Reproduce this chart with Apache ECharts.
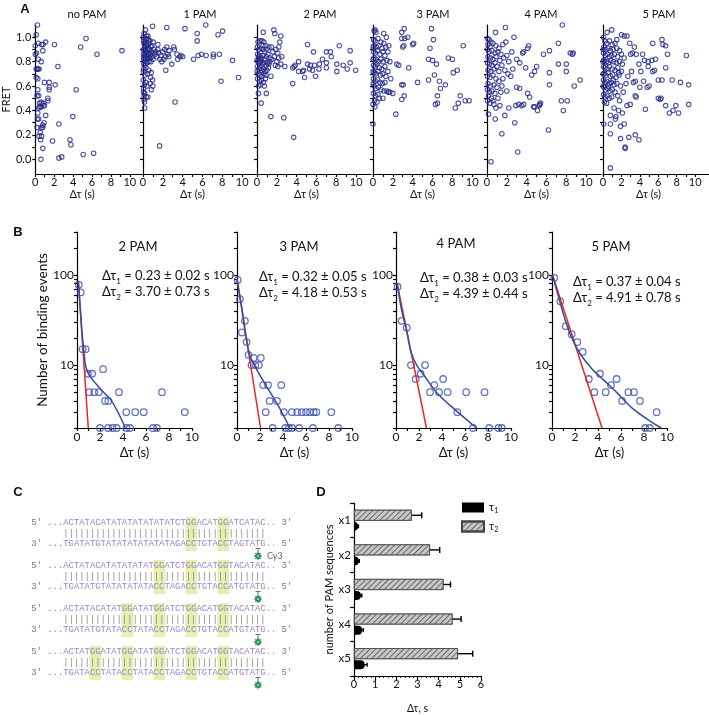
<!DOCTYPE html>
<html>
<head>
<meta charset="utf-8">
<script src="https://cdn.jsdelivr.net/npm/echarts@6/dist/echarts.min.js"></script>
<style>
html, body { margin: 0; padding: 0; background: #fff; }
#chart { width: 709px; height: 715px; }
</style>
</head>
<body>
<div id="chart"></div>
<script>
var FONT = 'Lato, "DejaVu Sans", sans-serif';
var MONO = '"Liberation Mono", "DejaVu Sans Mono", monospace';

// ---------- A: FRET vs dwell time ----------
var aTitles = ['no PAM', '1 PAM', '2 PAM', '3 PAM', '4 PAM', '5 PAM'];
var aXTicks = [0, 1, 2, 3, 4, 5, 6, 7, 8, 9, 10];
var aXLabels = [0, 2, 4, 6, 8, 10];
var aYTicks = [0, 0.1, 0.2, 0.3, 0.4, 0.5, 0.6, 0.7, 0.8, 0.9, 1.0];
var aYLabels = [0, 0.2, 0.4, 0.6, 0.8, 1.0];

var aNoPam = [[0.23,1.10],[0.1,1.02],[0.0,0.93],[0.33,0.95],[0.67,0.94],[0.83,0.94],[1.1,0.96],[0.8,0.89],[0.13,0.87],[0.0,0.86],
  [0.33,0.82],[0.63,0.80],[2.03,0.94],[4.8,0.92],[5.37,0.99],[6.53,0.86],[9.17,0.89],[2.4,0.76],[0.1,0.74],[0.2,0.74],
  [0.3,0.74],[0.4,0.74],[0.1,0.67],[0.27,0.66],[0.97,0.63],[1.47,0.63],[2.1,0.61],[1.47,0.59],[1.47,0.57],[0.27,0.57],
  [4.33,0.57],[0.2,0.52],[0.37,0.52],[1.33,0.50],[1.33,0.48],[0.47,0.46],[0.63,0.47],[0.83,0.46],[0.9,0.44],[0.47,0.43],
  [0.63,0.43],[0.97,0.44],[0.37,0.42],[0.27,0.38],[1.1,0.36],[3.97,0.35],[0.23,0.33],[0.37,0.33],[0.93,0.30],[2.5,0.29],
  [0.8,0.28],[0.63,0.26],[0.8,0.26],[0.2,0.26],[0.53,0.22],[0.4,0.19],[0.67,0.19],[0.57,0.16],[1.83,0.15],[3.67,0.16],
  [3.77,0.12],[0.8,0.09],[5.07,0.04],[6.17,0.05],[2.5,0.01],[2.8,0.02],[0.6,0.00]];

var a1Pam = [[0.05,0.97],[0.1,0.95],[0.2,0.96],[0.3,0.98],[0.4,0.99],[0.5,1.01],[0.15,0.93],[0.25,0.92],[0.35,0.94],[0.45,0.93],
  [0.6,0.95],[0.7,0.97],[0.05,0.9],[0.12,0.89],[0.22,0.9],[0.32,0.88],[0.42,0.9],[0.55,0.91],[0.65,0.9],[0.8,0.92],
  [0.9,0.93],[0.05,0.86],[0.15,0.85],[0.25,0.87],[0.35,0.85],[0.5,0.86],[0.6,0.87],[0.75,0.86],[0.85,0.88],[1.0,0.87],
  [1.1,0.9],[0.05,0.83],[0.12,0.82],[0.2,0.8],[0.3,0.83],[0.45,0.82],[0.55,0.84],[0.7,0.83],[0.9,0.84],[1.2,0.86],
  [1.3,0.88],[0.08,0.78],[0.18,0.77],[0.4,0.79],[0.6,0.8],[0.8,0.8],[1.0,0.82],[1.4,0.84],[1.6,0.87],[1.8,0.85],
  [2.0,0.88],[2.2,0.9],[1.7,0.82],[1.9,0.8],[2.1,0.82],[2.3,0.84],[2.5,0.86],[2.6,0.84],[1.5,0.9],[0.03,1.0],
  [0.1,1.03],[0.25,1.06],[0.35,1.01],[0.55,0.98],[0.97,1.09],[2.4,1.08],[4.23,1.07],[6.33,1.10],[5.47,1.03],[8.03,1.05],
  [7.57,1.02],[5.47,0.97],[1.03,0.96],[1.5,0.94],[3.1,0.92],[3.17,0.9],[2.4,0.92],[2.63,0.89],[3.43,0.86],[3.83,0.85],
  [3.5,0.82],[3.7,0.84],[4.0,0.84],[5.1,0.82],[5.57,0.85],[5.9,0.86],[6.37,0.85],[7.1,0.86],[7.1,0.84],[7.7,0.86],
  [9.03,0.81],[2.9,0.78],[2.3,0.73],[7.87,0.64],[9.63,0.67],[3.23,0.47],[1.67,0.11],[0.83,0.71],[0.77,0.67],[0.97,0.65],
  [0.73,0.62],[0.13,0.61],[0.07,0.58],[0.83,0.57],[0.17,0.54],[0.33,0.51],[0.5,0.51],[0.1,0.49],[0.17,0.42],[0.27,0.63],
  [0.03,0.65],[0.2,0.69],[0.05,0.72],[0.3,0.75],[0.1,0.52],[0.05,0.55],[0.4,0.6],[1.0,0.6],[0.15,0.47],[0.05,0.74],
  [0.6,0.73],[0.45,0.7]];

var a2Pam = [[0.63,1.04],[1.7,1.06],[1.8,1.03],[2.4,1.01],[2.3,0.96],[5.1,0.94],[8.3,0.93],[5.7,0.88],[7.0,0.88],[7.4,0.88],
  [9.4,0.89],[6.6,0.82],[7.5,0.84],[7.0,0.79],[4.2,0.80],[5.1,0.78],[5.4,0.77],[5.8,0.77],[6.3,0.78],[8.05,0.78],
  [8.7,0.77],[9.4,0.79],[2.8,0.76],[3.6,0.75],[3.75,0.76],[3.85,0.77],[4.2,0.72],[4.6,0.72],[4.7,0.73],[5.3,0.74],
  [5.6,0.73],[6.25,0.74],[7.0,0.75],[8.05,0.72],[9.1,0.74],[9.95,0.73],[4.8,0.67],[5.9,0.68],[1.4,0.68],[3.6,0.62],
  [0.14,0.54],[0.94,0.54],[0.42,0.46],[1.4,0.35],[2.7,0.34],[3.7,0.18],[0.1,0.96],[0.3,0.97],[0.5,0.97],[0.7,0.96],
  [0.9,0.93],[0.05,0.92],[0.2,0.9],[0.4,0.91],[0.6,0.9],[0.8,0.88],[1.0,0.9],[1.2,0.92],[1.45,0.92],[1.6,0.88],
  [1.9,0.9],[2.1,0.87],[2.2,0.92],[0.05,0.86],[0.15,0.84],[0.3,0.85],[0.45,0.83],[0.6,0.85],[0.75,0.82],[0.95,0.84],
  [1.1,0.86],[1.3,0.83],[1.5,0.82],[1.75,0.84],[2.0,0.8],[2.2,0.83],[0.1,0.8],[0.25,0.79],[0.4,0.8],[0.55,0.78],
  [0.7,0.79],[0.9,0.77],[1.05,0.79],[1.2,0.78],[2.1,0.76],[2.4,0.78],[0.05,0.76],[0.2,0.74],[0.35,0.75],[0.5,0.73],
  [0.65,0.74],[0.8,0.72],[1.0,0.73],[1.15,0.75],[0.1,0.7],[0.3,0.69],[0.5,0.68],[0.7,0.7],[0.9,0.69],[0.05,0.66],
  [0.25,0.64],[0.45,0.65],[0.65,0.63],[0.85,0.66],[0.15,0.6],[0.35,0.61],[0.75,0.6],[0.2,0.82],[0.6,0.93],[1.3,0.8],
  [1.85,0.77],[2.5,0.84],[0.02,0.81],[0.02,0.72]];

var a3Pam = [[0.1,1.05],[0.2,1.06],[0.3,1.04],[1.08,1.03],[1.35,1.0],[2.9,1.04],[3.15,1.07],[5.9,1.07],[3.5,1.0],[2.9,0.99],
  [3.2,0.99],[4.1,0.95],[4.0,0.94],[6.1,0.98],[9.1,0.93],[5.75,0.91],[3.0,0.92],[3.1,0.93],[5.6,0.82],[6.0,0.81],
  [6.4,0.78],[7.6,0.83],[8.0,0.82],[2.4,0.78],[2.6,0.77],[3.6,0.75],[8.1,0.71],[8.5,0.73],[6.2,0.69],[4.5,0.63],
  [5.6,0.65],[6.7,0.64],[7.3,0.61],[6.8,0.58],[2.9,0.61],[3.05,0.61],[2.0,0.54],[1.7,0.55],[1.55,0.55],[3.15,0.52],
  [2.9,0.49],[1.0,0.50],[6.5,0.52],[6.5,0.46],[6.3,0.45],[8.8,0.52],[9.3,0.48],[9.7,0.48],[8.6,0.46],[8.3,0.42],
  [2.3,0.37],[0.0,0.29],[0.05,0.98],[0.2,0.97],[0.5,0.99],[0.8,0.96],[1.1,0.95],[0.1,0.93],[0.35,0.92],[0.6,0.93],
  [0.9,0.91],[1.3,0.92],[1.6,0.93],[0.05,0.88],[0.25,0.87],[0.45,0.89],[0.7,0.86],[1.0,0.88],[1.2,0.85],[0.1,0.83],
  [0.3,0.82],[0.55,0.8],[0.8,0.82],[1.05,0.8],[1.4,0.81],[1.7,0.8],[0.05,0.77],[0.2,0.76],[0.4,0.78],[0.65,0.75],
  [0.9,0.74],[1.2,0.76],[0.1,0.71],[0.3,0.7],[0.5,0.72],[0.75,0.69],[1.0,0.7],[1.3,0.68],[0.05,0.66],[0.2,0.64],
  [0.45,0.65],[0.7,0.63],[0.95,0.62],[1.2,0.63],[0.1,0.6],[0.3,0.58],[0.55,0.59],[0.8,0.57],[1.1,0.56],[1.4,0.56],
  [0.05,0.54],[0.25,0.52],[0.5,0.53],[0.15,0.48],[0.4,0.47],[0.65,0.5],[0.0,0.45],[0.2,0.43],[0.02,0.62],[0.02,0.72],
  [0.02,0.82],[0.02,0.92],[1.5,0.72],[1.8,0.66],[1.5,0.88]];

var a4Pam = [[7.6,1.1],[1.86,1.08],[0.86,1.04],[2.72,1.0],[1.9,0.96],[1.6,0.94],[7.2,0.95],[4.2,0.93],[4.1,0.91],[3.7,0.88],
  [3.6,0.87],[8.4,0.87],[8.6,0.86],[8.7,0.87],[6.3,0.89],[5.7,0.86],[2.2,0.80],[3.3,0.79],[7.2,0.78],[8.0,0.78],
  [8.0,0.72],[6.3,0.71],[9.4,0.65],[8.8,0.60],[6.3,0.61],[3.0,0.59],[3.3,0.58],[4.1,0.54],[3.7,0.45],[3.5,0.44],
  [3.2,0.45],[2.9,0.44],[4.7,0.43],[4.8,0.43],[5.3,0.45],[5.4,0.46],[5.3,0.44],[5.1,0.40],[7.5,0.48],[8.1,0.48],
  [7.7,0.40],[2.8,0.30],[6.2,0.24],[1.5,0.21],[3.1,0.06],[0.4,-0.02],[0.15,0.37],[0.83,0.33],[1.8,0.36],[4.5,0.69],
  [4.8,0.72],[3.9,0.75],[2.6,0.74],[2.4,0.68],[5.0,0.76],[3.0,0.82],[2.5,0.88],[1.2,0.64],[1.5,0.6],[2.0,0.56],
  [1.1,0.5],[0.7,0.45],[1.3,0.44],[2.2,0.42],[0.9,0.42],[4.3,0.51],[0.05,0.99],[0.2,0.98],[0.4,0.96],[0.1,0.94],
  [0.3,0.92],[0.6,0.95],[0.9,0.93],[1.2,0.91],[0.05,0.9],[0.2,0.88],[0.5,0.89],[0.8,0.87],[1.1,0.88],[1.4,0.86],
  [0.1,0.84],[0.35,0.83],[0.6,0.82],[0.9,0.84],[1.3,0.81],[1.7,0.83],[0.05,0.79],[0.25,0.78],[0.5,0.77],[0.8,0.79],
  [1.0,0.76],[1.5,0.77],[0.1,0.73],[0.4,0.72],[0.7,0.74],[1.2,0.72],[1.8,0.73],[0.05,0.68],[0.3,0.67],[0.6,0.69],
  [0.9,0.66],[0.1,0.62],[0.35,0.6],[0.7,0.61],[1.0,0.59],[0.05,0.57],[0.25,0.55],[0.5,0.56],[0.8,0.54],[0.15,0.52],
  [0.45,0.5],[0.05,0.48],[0.3,0.46],[0.6,0.48],[1.4,0.55],[1.6,0.66],[2.1,0.7],[2.0,0.85]];

var a5Pam = [[0.95,1.06],[0.44,1.04],[2.0,1.02],[2.3,1.01],[2.6,1.01],[1.5,0.98],[5.4,0.95],[6.4,0.98],[6.5,0.94],[6.8,0.93],
  [7.0,0.86],[9.05,0.85],[3.0,0.86],[3.2,0.87],[3.6,0.86],[4.5,0.81],[4.9,0.8],[5.3,0.81],[4.9,0.76],[5.4,0.72],
  [5.6,0.73],[6.0,0.65],[6.4,0.65],[7.5,0.65],[8.4,0.63],[9.3,0.61],[6.8,0.75],[4.4,0.64],[4.8,0.59],[5.0,0.6],
  [4.0,0.59],[3.5,0.64],[3.3,0.63],[6.0,0.5],[6.2,0.49],[6.3,0.5],[6.8,0.44],[7.2,0.38],[7.6,0.4],[7.9,0.44],
  [8.2,0.38],[9.3,0.45],[4.6,0.41],[2.95,0.45],[3.5,0.52],[3.6,0.51],[2.1,0.38],[1.4,0.35],[1.35,0.33],[0.8,0.36],
  [0.07,0.29],[0.8,0.29],[0.8,0.21],[1.9,0.17],[2.4,0.10],[2.4,0.09],[2.8,0.18],[3.5,0.20],[3.9,0.16],[1.9,0.27],
  [2.3,0.29],[0.8,-0.07],[4.1,0.72],[3.9,0.78],[3.1,0.72],[2.7,0.68],[2.5,0.62],[2.2,0.55],[1.8,0.48],[1.2,0.42],
  [2.6,0.44],[1.7,0.4],[1.6,0.52],[4.3,0.86],[5.7,0.82],[2.9,0.95],[3.4,0.92],[0.05,1.0],[0.2,0.97],[0.4,0.95],
  [0.7,0.97],[1.0,0.94],[1.3,0.95],[0.1,0.92],[0.3,0.9],[0.55,0.91],[0.8,0.89],[1.1,0.9],[1.5,0.91],[1.8,0.89],
  [0.05,0.87],[0.25,0.85],[0.45,0.86],[0.7,0.84],[0.95,0.85],[1.25,0.86],[1.6,0.84],[2.0,0.86],[2.3,0.83],[0.1,0.81],
  [0.35,0.8],[0.6,0.79],[0.85,0.81],[1.15,0.8],[1.45,0.79],[1.8,0.8],[2.1,0.78],[0.05,0.76],[0.2,0.75],[0.45,0.74],
  [0.7,0.76],[1.0,0.74],[1.3,0.73],[1.6,0.75],[2.0,0.72],[0.1,0.7],[0.3,0.69],[0.55,0.71],[0.8,0.68],[1.05,0.69],
  [1.4,0.67],[1.75,0.69],[0.05,0.65],[0.2,0.63],[0.4,0.64],[0.65,0.62],[0.9,0.63],[1.2,0.61],[1.5,0.62],[1.9,0.6],
  [0.1,0.59],[0.3,0.57],[0.5,0.58],[0.75,0.56],[1.0,0.57],[1.3,0.55],[0.05,0.53],[0.2,0.51],[0.45,0.52],[0.7,0.5],
  [0.95,0.51],[0.15,0.47],[0.4,0.46],[0.02,0.6],[0.02,0.7],[0.02,0.8],[0.02,0.9],[0.6,0.6],[1.1,0.65],[1.7,0.71]];

var aData = [aNoPam, a1Pam, a2Pam, a3Pam, a4Pam, a5Pam];

// ---------- B: dwell time histograms ----------
var bTitles = ['2 PAM', '3 PAM', '4 PAM', '5 PAM'];
var bTau1Text = ['0.23 \u00b1 0.02 s', '0.32 \u00b1 0.05 s', '0.38 \u00b1 0.03 s', '0.37 \u00b1 0.04 s'];
var bTau2Text = ['3.70 \u00b1 0.73 s', '4.18 \u00b1 0.53 s', '4.39 \u00b1 0.44 s', '4.91 \u00b1 0.78 s'];
var bXTicks = [0, 1, 2, 3, 4, 5, 6, 7, 8, 9, 10];
var bXLabels = [0, 2, 4, 6, 8, 10];
var bYTicks = [2, 3, 4, 5, 6, 7, 8, 9, 10, 20, 30, 40, 50, 60, 70, 80, 90, 100, 200, 300];
var bYLabels = [10, 100];

var b2Counts = [[0.15,78],[0.32,64],[0.49,15],[0.75,15],[0.95,8],[1.32,8],[2.27,9],[1.06,5],[1.5,5],[1.9,5],[2.44,4],[2.73,4],
  [3.65,5],[4.28,3],[5.06,3],[5.8,3],[7.39,5],[9.37,3],[2.0,2],[2.7,2],[3.1,2],[3.45,2],[4.3,2],[4.6,2],[6.6,2],[6.95,2]];
var b3Counts = [[0.06,88],[0.26,54],[0.43,23],[0.69,31],[0.83,18],[1.0,13],[1.45,12],[2.07,12],[1.26,10],[1.6,10],[1.9,10],
  [2.27,6],[2.7,6],[3.85,6],[2.84,4],[3.48,4],[2.5,3],[4.08,3],[4.77,3],[5.23,3],[5.63,3],[6.0,3],[6.35,3],[6.67,3],
  [6.9,3],[8.2,3],[3.1,2],[4.2,2],[4.5,2],[4.8,2],[5.4,2],[6.6,2],[8.8,2]];
var b4Counts = [[0.14,74],[0.49,31],[0.93,26],[1.3,10],[2.52,10],[1.71,7],[2.14,8],[3.33,6],[4.1,7],[2.96,5],[3.74,5],
  [4.49,5],[6.1,5],[7.7,5],[5.33,3],[6.7,2],[8.1,2],[8.9,2],[9.2,2]];
var b5Counts = [[0.2,93],[0.72,51],[1.19,27],[1.71,22],[2.2,18],[2.67,14],[3.2,7],[3.68,5],[4.17,8],[4.67,5],[5.13,6],
  [5.62,7],[6.1,4],[6.64,5],[7.13,5],[7.65,4],[9.1,3],[8.1,2],[8.5,2]];
var bCounts = [b2Counts, b3Counts, b4Counts, b5Counts];

// single exponential fits (red) and double exponential fits (blue)
var bFitSingle = [
  [[0.12,85],[0.98,2]],
  [[0,90],[2.05,2]],
  [[0.1,80],[2.65,2]],
  [[0.05,100],[4.35,2]]
];
var bFitDouble = [
  [[0.12,85],[0.3,40],[0.45,22],[0.6,14],[0.8,9.2],[1.2,7.3],[2,5.5],[3,4],[3.8,2.6],[4.2,2]],
  [[0,90],[0.4,45],[0.8,20],[1.1,13],[1.5,10],[2.5,6],[3.5,3.7],[4.6,2]],
  [[0.1,80],[0.5,40],[0.9,25],[1.3,14],[1.8,10],[2.5,7.5],[3.5,5],[5,3.3],[7,2]],
  [[0.05,100],[0.6,55],[1.2,30],[1.8,19],[2.5,13],[3.5,9],[4.5,6.8],[5.6,5],[7,3.3],[8.5,2.4],[9.5,2]]
];

// ---------- C: PAM constructs ----------
var cTopStrands = [
  'ACTATACATATATATATATATCTGGACATGGATCATAC',
  'ACTATACATATATATATGGATCTGGACATGGTACATAC',
  'ACTATACATATGGATATGGATCTGGACATGGTACATAC',
  'ACTATGGATATGGATATGGATCTGGACATGGTACATAC'
];

// ---------- D: lifetimes vs number of PAMs ----------
var dCats = ['x1', 'x2', 'x3', 'x4', 'x5'];
var dTau1 = [0.18, 0.22, 0.32, 0.38, 0.5];
var dTau1Err = [0.03, 0.03, 0.05, 0.06, 0.12];
var dTau2 = [2.73, 3.59, 4.23, 4.66, 4.91];
var dTau2Err = [0.47, 0.46, 0.33, 0.4, 0.7];

var chart = echarts.init(document.getElementById('chart'));

var blk = { color: '#000', width: 1.2 };
var grids = [], xAxes = [], yAxes = [], series = [], graphics = [];

function txt(x, y, text, size, opts) {
  var st = { text: text, fontSize: size, fontFamily: FONT, fill: '#111', align: 'center', verticalAlign: 'middle' };
  for (var k in (opts || {})) st[k] = opts[k];
  graphics.push({ type: 'text', x: x, y: y, style: st, silent: true });
}

// panel A
var aLefts = [30, 143, 257, 373, 487, 603];
var aTitleX = [87, 200, 320, 433, 541, 659];
aLefts.forEach(function (left, i) {
  var g = grids.length;
  grids.push({ left: left, top: 25, width: 114, height: 149 });
  xAxes.push({
    gridIndex: g, type: 'value', min: 0, max: 11.5,
    axisLine: { show: true, onZero: false, lineStyle: blk },
    axisTick: { show: true, length: 3, customValues: aXTicks, lineStyle: blk },
    axisLabel: { customValues: aXLabels, fontSize: 11, margin: 3, color: '#111', fontFamily: FONT },
    splitLine: { show: false },
    name: '\u0394\u03c4 (s)', nameLocation: 'middle', nameGap: 15,
    nameTextStyle: { fontSize: 11, color: '#111', fontFamily: FONT, padding: [0, 15, 0, 0] }
  });
  yAxes.push({
    gridIndex: g, type: 'value', min: -0.12, max: 1.1,
    axisLine: { show: true, onZero: false, lineStyle: blk },
    axisTick: { show: true, length: 3, customValues: aYTicks, lineStyle: blk },
    axisLabel: {
      show: i === 0, customValues: aYLabels, fontSize: 11, margin: 4, color: '#111', fontFamily: FONT,
      formatter: function (v) { return v.toFixed(1); }
    },
    splitLine: { show: false },
    name: i === 0 ? 'FRET' : '', nameLocation: 'middle', nameGap: 22,
    nameTextStyle: { fontSize: 11, color: '#111', fontFamily: FONT }
  });
  series.push({
    type: 'scatter', xAxisIndex: g, yAxisIndex: g, data: aData[i], symbol: 'circle', symbolSize: 4.5,
    itemStyle: { color: 'rgba(0,0,0,0)', borderColor: '#26288a', borderWidth: 1.1 }, silent: true
  });
  txt(aTitleX[i], 14, aTitles[i], 11);
});

// panel B
var bLefts = [77, 237, 396, 552];
var bTitleX = [138, 299, 456, 611];
var bTitleY = [247, 247, 244, 247];
var bNoteX = [102, 259, 420, 573];
var bNoteY = [276, 277, 278, 282];
var noteRich = {
  n: { fontSize: 13, fontFamily: FONT, fill: '#111', lineHeight: 18 },
  s: { fontSize: 8, fontFamily: FONT, fill: '#111', lineHeight: 8, verticalAlign: 'bottom' }
};
bLefts.forEach(function (left, j) {
  var g = grids.length;
  grids.push({ left: left, top: 232, width: 115, height: 196 });
  xAxes.push({
    gridIndex: g, type: 'value', min: 0, max: 10,
    axisLine: { show: true, onZero: false, lineStyle: blk },
    axisTick: { show: true, length: 3, customValues: bXTicks, lineStyle: blk },
    axisLabel: { customValues: bXLabels, fontSize: 12, margin: 3, color: '#111', fontFamily: FONT },
    splitLine: { show: false },
    name: '\u0394\u03c4 (s)', nameLocation: 'middle', nameGap: 18,
    nameTextStyle: { fontSize: 13, color: '#111', fontFamily: FONT }
  });
  yAxes.push({
    gridIndex: g, type: 'log', logBase: 10, min: 2, max: 300,
    axisLine: { show: true, onZero: false, lineStyle: blk },
    axisTick: { show: true, length: 3, customValues: bYTicks, lineStyle: blk },
    axisLabel: { customValues: bYLabels, fontSize: 12, margin: 3, color: '#111', fontFamily: FONT },
    splitLine: { show: false },
    name: j === 0 ? 'Number of binding events' : '', nameLocation: 'middle', nameGap: 27,
    nameTextStyle: { fontSize: 13.5, color: '#111', fontFamily: FONT }
  });
  series.push({
    type: 'line', xAxisIndex: g, yAxisIndex: g, data: bFitSingle[j], symbol: 'none', silent: true,
    lineStyle: { color: '#e8262c', width: 1.5 }
  });
  series.push({
    type: 'line', xAxisIndex: g, yAxisIndex: g, data: bFitDouble[j], symbol: 'none', smooth: 0.3, silent: true,
    lineStyle: { color: '#3a4c9f', width: 1.5 }
  });
  series.push({
    type: 'scatter', xAxisIndex: g, yAxisIndex: g, data: bCounts[j], symbol: 'circle', symbolSize: 6.5,
    itemStyle: { color: 'rgba(0,0,0,0)', borderColor: '#3d52ad', borderWidth: 1.3 }, silent: true
  });
  txt(bTitleX[j], bTitleY[j], bTitles[j], 13);
  graphics.push({ type: 'text', x: bNoteX[j], y: bNoteY[j], silent: true, style: {
    text: '{n|\u0394\u03c4}{s|1}{n| = ' + bTau1Text[j] + '}', rich: noteRich, verticalAlign: 'middle' } });
  graphics.push({ type: 'text', x: bNoteX[j], y: bNoteY[j] + 16, silent: true, style: {
    text: '{n|\u0394\u03c4}{s|2}{n| = ' + bTau2Text[j] + '}', rich: noteRich, verticalAlign: 'middle' } });
});

// panel D
var gD = grids.length;
grids.push({ left: 354, top: 503, width: 127, height: 177 });
xAxes.push({
  gridIndex: gD, type: 'value', min: 0, max: 6, interval: 1,
  axisLine: { show: true, onZero: false, lineStyle: blk },
  axisTick: { show: true, length: 4, lineStyle: blk },
  minorTick: { show: true, splitNumber: 5, length: 2, lineStyle: { color: '#000', width: 0.8 } },
  axisLabel: { fontSize: 11, margin: 3, color: '#111', fontFamily: FONT },
  splitLine: { show: false },
  name: '\u0394\u03c4, s', nameLocation: 'middle', nameGap: 27,
  nameTextStyle: { fontSize: 10.5, color: '#111', fontFamily: FONT }
});
yAxes.push({
  gridIndex: gD, type: 'category', data: dCats, inverse: true,
  axisLine: { show: true, onZero: false, lineStyle: blk },
  axisTick: { show: true, length: 4, lineStyle: blk },
  axisLabel: { fontSize: 11.5, margin: 3, color: '#111', fontFamily: FONT },
  name: 'number of PAM sequences', nameLocation: 'middle', nameGap: 17,
  nameTextStyle: { fontSize: 11, color: '#111', fontFamily: FONT }
});
series.push({
  name: 'tau2', type: 'bar', xAxisIndex: gD, yAxisIndex: gD, data: dTau2, barWidth: 11, barGap: '10%',
  itemStyle: {
    color: '#c8c8c8', borderColor: '#444', borderWidth: 0.7,
    decal: { symbol: 'rect', symbolSize: 1, dashArrayX: [1, 0], dashArrayY: [0.8, 2.2], rotation: -Math.PI / 4, color: '#666' }
  }, silent: true
});
series.push({
  name: 'tau1', type: 'bar', xAxisIndex: gD, yAxisIndex: gD, data: dTau1, barWidth: 9, barGap: '10%',
  itemStyle: { color: '#000', borderRadius: [0, 4, 4, 0] }, silent: true
});
function errSeries(vals, errs, off, cap) {
  return {
    type: 'custom', xAxisIndex: gD, yAxisIndex: gD, silent: true,
    data: vals.map(function (v, k) { return [v, errs[k], k]; }),
    encode: { x: 0, y: 2 },
    renderItem: function (params, api) {
      var lo = api.coord([api.value(0) - api.value(1), api.value(2)]);
      var hi = api.coord([api.value(0) + api.value(1), api.value(2)]);
      var y = lo[1] + off;
      var st = { stroke: '#000', lineWidth: 1.4 };
      return { type: 'group', children: [
        { type: 'line', shape: { x1: lo[0], y1: y, x2: hi[0], y2: y }, style: st },
        { type: 'line', shape: { x1: lo[0], y1: y - cap, x2: lo[0], y2: y + cap }, style: st },
        { type: 'line', shape: { x1: hi[0], y1: y - cap, x2: hi[0], y2: y + cap }, style: st }
      ] };
    }
  };
}
series.push(errSeries(dTau2, dTau2Err, -5, 3));
series.push(errSeries(dTau1, dTau1Err, 6, 2));

// panel letters
txt(25, 9, 'A', 13, { fontWeight: 'bold', fontFamily: 'Liberation Sans, sans-serif' });
txt(18, 232, 'B', 13, { fontWeight: 'bold', fontFamily: 'Liberation Sans, sans-serif' });
txt(18, 492, 'C', 13, { fontWeight: 'bold', fontFamily: 'Liberation Sans, sans-serif' });
txt(321, 492, 'D', 13, { fontWeight: 'bold', fontFamily: 'Liberation Sans, sans-serif' });

// panel C: sequences
var cRowY = [523, 566, 609, 652];
var charW = 5.333, seqX = 63.3, lineX = 31.3;
var comp = { A: 'T', T: 'A', G: 'C', C: 'G' };
var seqRich = {
  g: { fontSize: 8.9, fontFamily: MONO, fill: '#7a7a7a' },
  p: { fontSize: 8.9, fontFamily: MONO, fill: '#9b84cc' },
  b: { fontSize: 8.9, fontFamily: MONO, fill: '#8a8a8a' }
};
cTopStrands.forEach(function (seq, r) {
  var y0 = cRowY[r];
  var re = /GG/g, m;
  while ((m = re.exec(seq)) !== null) {
    graphics.push({ type: 'rect', silent: true,
      shape: { x: seqX + m.index * charW - 0.5, y: y0 - 6, width: 2 * charW + 1, height: 34 },
      style: { fill: '#e7efb0' } });
  }
  var bottom = seq.split('').map(function (c) { return comp[c]; }).join('');
  var bars = seq.replace(/./g, '|');
  graphics.push({ type: 'text', x: lineX, y: y0, silent: true, style: {
    text: "{g|5' ...}{p|" + seq + "..}{g| 3'}", rich: seqRich, verticalAlign: 'middle' } });
  graphics.push({ type: 'text', x: seqX, y: y0 + 11, silent: true, style: {
    text: '{b|' + bars + '}', rich: seqRich, verticalAlign: 'middle' } });
  graphics.push({ type: 'text', x: lineX, y: y0 + 21, silent: true, style: {
    text: "{g|3' ...}{p|" + bottom + "..}{g| 5'}", rich: seqRich, verticalAlign: 'middle' } });
  // Cy3 dye
  var sx = 258, sy = y0 + 33;
  graphics.push({ type: 'line', silent: true, shape: { x1: sx, y1: y0 + 25, x2: sx, y2: sy }, style: { stroke: '#555', lineWidth: 0.8 } });
  graphics.push({ type: 'line', silent: true, shape: { x1: sx - 2.5, y1: y0 + 25.5, x2: sx + 2.5, y2: y0 + 25.5 }, style: { stroke: '#555', lineWidth: 0.8 } });
  var pts = [];
  for (var k = 0; k < 16; k++) {
    var rr = k % 2 ? 2.6 : 4.4, a = k * Math.PI / 8;
    pts.push([sx + rr * Math.cos(a), sy + rr * Math.sin(a)]);
  }
  graphics.push({ type: 'polygon', silent: true, shape: { points: pts }, style: { fill: '#1f8a55' } });
  graphics.push({ type: 'circle', silent: true, shape: { cx: sx, cy: sy, r: 1.3 }, style: { fill: '#8fd0a8' } });
  if (r === 0) txt(267, sy, 'Cy3', 9, { align: 'left', fill: '#666' });
});

chart.setOption({
  backgroundColor: '#fff',
  animation: false,
  textStyle: { fontFamily: FONT },
  grid: grids,
  xAxis: xAxes,
  yAxis: yAxes,
  legend: {
    data: ['tau1', 'tau2'], left: 456, top: 497, orient: 'vertical', itemWidth: 22, itemHeight: 10, itemGap: 6,
    icon: 'rect', selectedMode: false,
    formatter: function (n) { return n === 'tau1' ? '{t|\u03c4}{s|1}' : '{t|\u03c4}{s|2}'; },
    textStyle: { color: '#111', rich: {
      t: { fontSize: 11, fontFamily: FONT, lineHeight: 14 },
      s: { fontSize: 7, fontFamily: FONT, lineHeight: 7, verticalAlign: 'bottom' }
    } }
  },
  series: series,
  graphic: graphics
});

window.addEventListener('resize', function () { chart.resize(); });
</script>
</body>
</html>
